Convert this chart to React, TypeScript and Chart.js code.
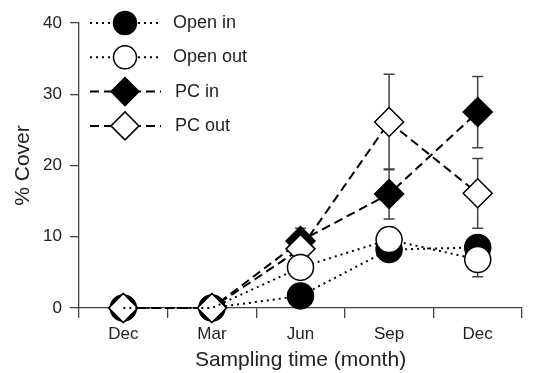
import React, { useEffect, useRef } from 'react';
import { Chart, registerables } from 'chart.js';

Chart.register(...registerables);

const months = ['Dec', 'Mar', 'Jun', 'Sep', 'Dec'];
const seriesNames = ['Open in', 'Open out', 'PC in', 'PC out'];
const openIn = [0, 0, 1.7, 8.2, 8.5];
const openOut = [0, 0, 5.7, 9.6, 6.8];
const pcIn = [0, 0, 9.4, 16.0, 27.5];
const pcOut = [0, 0, 8.3, 26.1, 16.1];
const openInErr = [0, 0, 0, 0, 0];
const openOutErr = [0, 0, 0, 0, 2.4];
const pcInErr = [0, 0, 1.8, 3.5, 5.0];
const pcOutErr = [0, 0, 0, 6.7, 4.9];
const yTicks = [0, 10, 20, 30, 40];

const FONT = "'Liberation Sans', Arial, Helvetica, sans-serif";
const AXIS = '#444';
const TEXT = '#222';

const styles = [
  { fill: '#000', shape: 'circle', dash: [2, 4], r: 13, lr: 11.5 },
  { fill: '#fff', shape: 'circle', dash: [2, 4], r: 13, lr: 11.5 },
  { fill: '#000', shape: 'rectRot', dash: [9, 5], r: 14.5, lr: 14 },
  { fill: '#fff', shape: 'rectRot', dash: [9, 5], r: 14.5, lr: 14 },
];

const errorBarPlugin = {
  id: 'errorBars',
  beforeDatasetsDraw(chart: any) {
    const { ctx, scales } = chart;
    const xs = scales.x;
    const ys = scales.y;
    const errs = [openInErr, openOutErr, pcInErr, pcOutErr];
    ctx.save();
    ctx.strokeStyle = '#444';
    ctx.lineWidth = 1.5;
    ctx.setLineDash([]);
    chart.data.datasets.forEach((ds: any, i: number) => {
      ds.data.forEach((v: number, j: number) => {
        const e = errs[i][j];
        if (!e) return;
        const x = xs.getPixelForValue(j);
        const yTop = ys.getPixelForValue(v + e);
        const yBot = ys.getPixelForValue(v - e);
        ctx.beginPath();
        ctx.moveTo(x, yTop);
        ctx.lineTo(x, yBot);
        ctx.moveTo(x - 5.5, yTop);
        ctx.lineTo(x + 5.5, yTop);
        ctx.moveTo(x - 5.5, yBot);
        ctx.lineTo(x + 5.5, yBot);
        ctx.stroke();
      });
    });
    ctx.restore();
  },
};

const legendPlugin = {
  id: 'customLegend',
  afterDraw(chart: any) {
    const { ctx } = chart;
    const cx = 125;
    const startY = 23;
    const step = 34.3;
    ctx.save();
    seriesNames.forEach((name, i) => {
      const st = styles[i];
      const y = startY + i * step;
      ctx.strokeStyle = '#000';
      ctx.lineWidth = 2;
      ctx.setLineDash(st.dash);
      ctx.beginPath();
      ctx.moveTo(90, y);
      ctx.lineTo(161, y);
      ctx.stroke();
      ctx.setLineDash([]);
      ctx.fillStyle = st.fill;
      ctx.lineWidth = 1.5;
      ctx.beginPath();
      if (st.shape === 'circle') {
        ctx.arc(cx, y, st.lr, 0, Math.PI * 2);
      } else {
        ctx.moveTo(cx - st.lr, y);
        ctx.lineTo(cx, y - st.lr);
        ctx.lineTo(cx + st.lr, y);
        ctx.lineTo(cx, y + st.lr);
        ctx.closePath();
      }
      ctx.fill();
      ctx.stroke();
      ctx.fillStyle = TEXT;
      ctx.font = `18px ${FONT}`;
      ctx.textAlign = 'left';
      ctx.textBaseline = 'middle';
      ctx.fillText(name, i < 2 ? 173 : 175, y);
    });
    ctx.restore();
  },
};

export default function App() {
  const ref = useRef<HTMLCanvasElement | null>(null);

  useEffect(() => {
    document.body.style.margin = '0';
    const canvas = ref.current;
    if (!canvas) return;
    const values = [openIn, openOut, pcIn, pcOut];
    const orders = [2, 0, 3, 1];
    const datasets = values.map((vals, i) => {
      const st = styles[i];
      return {
        label: seriesNames[i],
        data: vals,
        borderColor: '#000',
        borderWidth: 2,
        borderDash: st.dash,
        backgroundColor: st.fill,
        pointStyle: st.shape,
        pointRadius: i === 1 ? [0, 0, st.r, st.r, st.r] : st.r,
        pointBackgroundColor: st.fill,
        pointBorderColor: '#000',
        pointBorderWidth: 1.5,
        pointHoverRadius: st.r,
        tension: 0,
        fill: false,
        clip: false,
        order: orders[i],
      };
    });

    const chart = new Chart(canvas, {
      type: 'line',
      data: { labels: months, datasets } as any,
      options: {
        responsive: false,
        animation: false,
        events: [],
        layout: { padding: { left: 0, right: 20, top: 23, bottom: 0 } },
        plugins: {
          legend: { display: false },
          tooltip: { enabled: false },
        },
        scales: {
          x: {
            type: 'category',
            offset: true,
            grid: {
              offset: true,
              drawOnChartArea: false,
              drawTicks: true,
              tickLength: 10,
              color: AXIS,
              lineWidth: 1.3,
            },
            border: { display: true, color: AXIS, width: 1.3 },
            ticks: {
              font: { family: FONT, size: 17 },
              color: TEXT,
              padding: 6,
              maxRotation: 0,
              autoSkip: false,
            },
            title: {
              display: true,
              text: 'Sampling time (month)',
              font: { family: FONT, size: 21 },
              color: TEXT,
              padding: 0,
            },
            afterFit: (s: any) => {
              s.height = 65;
            },
          },
          y: {
            min: 0,
            max: 40,
            afterBuildTicks: (s: any) => {
              s.ticks = yTicks.map((v) => ({ value: v }));
            },
            grid: {
              drawOnChartArea: false,
              drawTicks: true,
              tickLength: 9,
              color: AXIS,
              lineWidth: 1.3,
            },
            border: { display: true, color: AXIS, width: 1.3 },
            ticks: {
              font: { family: FONT, size: 17 },
              color: TEXT,
              padding: 8,
            },
            title: {
              display: true,
              text: '% Cover',
              font: { family: FONT, size: 21 },
              color: TEXT,
              padding: { top: 11, bottom: 0 },
            },
            afterFit: (s: any) => {
              s.width = 79;
            },
          },
        },
      } as any,
      plugins: [errorBarPlugin, legendPlugin],
    });
    return () => chart.destroy();
  }, []);

  return (
    <div style={{ position: 'absolute', left: 0, top: 0, width: 542, height: 373, background: '#fff' }}>
      <canvas ref={ref} width={542} height={373} />
    </div>
  );
}
